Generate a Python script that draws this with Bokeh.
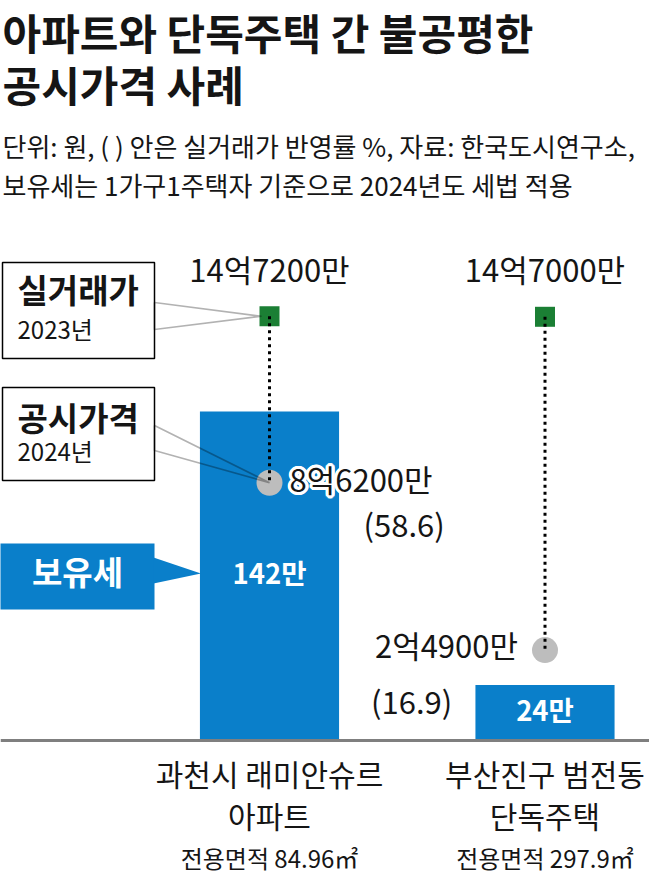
from bokeh.plotting import figure
from bokeh.models import Range1d, Label, BoxAnnotation, PolyAnnotation, Span
from bokeh.core.properties import value
from bokeh.embed import file_html
from bokeh.resources import INLINE

# ---------------- data ----------------
title_lines = ["아파트와 단독주택 간 불공평한", "공시가격 사례"]
subtitle_lines = ["단위: 원, ( ) 안은 실거래가 반영률 %, 자료: 한국도시연구소,",
                  "보유세는 1가구1주택자 기준으로 2024년도 세법 적용"]
category_line1 = ["과천시 래미안슈르", "부산진구 범전동"]
category_line2 = ["아파트", "단독주택"]
area_labels = ["전용면적 84.96㎡", "전용면적 297.9㎡"]
x_pos = [0, 1]
real_price = [14.72, 14.70]          # 억원, 실거래가 (2023년)
real_price_labels = ["14억7200만", "14억7000만"]
official_price = [8.62, 2.49]        # 억원, 공시가격 (2024년)
official_labels = ["8억6200만", "2억4900만"]
ratio = [58.6, 16.9]                 # 실거래가 반영률 %
tax = [142, 24]                      # 보유세, 만원
tax_labels = ["142만", "24만"]
legend_real = ["실거래가", "2023년"]
legend_official = ["공시가격", "2024년"]
legend_tax = "보유세"

# ---------------- layout / style ----------------
FONT = "Noto Sans CJK KR"
BLUE = "#0a7fca"
GREEN = "#1b7f34"
GRAY = "#bdbdbd"
INK = "#151515"
W, H = 649, 878
X_PX, X0 = 275.5, 269.0          # px per category, screen x of first category
TAX_PX, BASE = 2.317, 138.0      # px per 만원, screen y of baseline
PRICE_PX, PRICE0 = 27.3, 160.4   # px per 억원, screen y of zero price
BAR_W = 0.505
VAL_SIZE = 31

def sx(x):
    return X0 + x * X_PX

def sy_price(v):
    return PRICE0 + v * PRICE_PX

p = figure(width=W, height=H, output_backend="svg", toolbar_location=None,
           x_range=Range1d(-X0 / X_PX, (W - X0) / X_PX),
           y_range=Range1d(-BASE / TAX_PX, (H - BASE) / TAX_PX),
           x_axis_location=None, y_axis_location=None,
           min_border=0, outline_line_color=None,
           background_fill_color="white", border_fill_color="white")
p.extra_y_ranges = {"price": Range1d(-PRICE0 / PRICE_PX, (H - PRICE0) / PRICE_PX)}
p.grid.visible = False

# bars (보유세)
p.vbar(x=x_pos, top=tax, bottom=0, width=BAR_W, fill_color=BLUE, line_color=None)

# markers
p.scatter(x=x_pos, y=real_price, marker="square", size=20, fill_color=GREEN,
          line_color=None, y_range_name="price")
p.scatter(x=x_pos, y=official_price, marker="circle", size=26, fill_color=GRAY,
          line_color=None, y_range_name="price")
p.segment(x0=x_pos, y0=real_price, x1=x_pos, y1=official_price, line_color="black",
          line_width=3, line_dash="3 4", y_range_name="price")

# baseline
p.add_layout(Span(location=0, dimension="width", line_color="#7f7f7f", line_width=3))

txt = dict(text_font=value(FONT), text_color=INK, text_baseline="middle")
vsize = f"{VAL_SIZE}px"

# price labels
p.text(x=x_pos, y=real_price, text=real_price_labels, y_range_name="price",
       text_align="center", y_offset=-48, text_font_size=vsize, **txt)

# white halo behind the 공시가격 label that overlaps the bar
halo = [(-3, 0), (3, 0), (0, -3), (0, 3), (-2, -2), (2, -2), (-2, 2), (2, 2),
        (-3, -1), (3, -1), (-3, 1), (3, 1), (-1, -3), (1, -3), (-1, 3), (1, 3)]
for dx, dy in halo:
    p.text(x=[x_pos[0]], y=[official_price[0]], text=[official_labels[0]], y_range_name="price",
           text_align="left", x_offset=20 + dx, y_offset=-4 + dy, text_font_size=vsize,
           text_font=value(FONT), text_color="white", text_baseline="middle")
p.text(x=[x_pos[0]], y=[official_price[0]], text=[official_labels[0]], y_range_name="price",
       text_align="left", x_offset=20, y_offset=-4, text_font_size=vsize, **txt)
p.text(x=[x_pos[0]], y=[official_price[0]], text=[f"({ratio[0]})"], y_range_name="price",
       text_align="left", x_offset=94, y_offset=41, text_font_size=vsize, **txt)
p.text(x=[x_pos[1]], y=[official_price[1]], text=[official_labels[1]], y_range_name="price",
       text_align="right", x_offset=-27, y_offset=-6, text_font_size=vsize, **txt)
p.text(x=[x_pos[1]], y=[official_price[1]], text=[f"({ratio[1]})"], y_range_name="price",
       text_align="left", x_offset=-174, y_offset=50, text_font_size=vsize, **txt)

# bar labels
p.text(x=x_pos, y=[t / 2 for t in tax], text=tax_labels, text_align="center",
       text_baseline="middle", y_offset=-4, text_font=value(FONT), text_font_size="27.5px",
       text_font_style="bold", text_color="white")

# category labels
p.text(x=x_pos, y=[0, 0], text=category_line1, text_align="center", y_offset=32,
       text_font_size="30px", **txt)
p.text(x=x_pos, y=[0, 0], text=category_line2, text_align="center", y_offset=74,
       text_font_size="30px", **txt)
p.text(x=x_pos, y=[0, 0], text=area_labels, text_align="center", y_offset=117,
       text_font_size="24px", **txt)

# callout boxes
def box(l, r, t, b, fill, line):
    p.add_layout(BoxAnnotation(left=l, right=r, top=t, bottom=b,
                               left_units="screen", right_units="screen",
                               top_units="screen", bottom_units="screen",
                               fill_color=fill, fill_alpha=1.0,
                               line_color=line, line_width=1.5, line_alpha=1.0))

box(2, 154, 616, 520, "white", "black")
box(2, 154, 491, 398, "white", "black")
box(-5, 154, 335, 269, BLUE, None)

sq_tip = (sx(x_pos[0]) - 8, sy_price(real_price[0]))
ci_tip = (sx(x_pos[0]), sy_price(official_price[0]))
p.add_layout(PolyAnnotation(xs=[154, sq_tip[0], 154], ys=[576, sq_tip[1], 549],
                            xs_units="screen", ys_units="screen",
                            fill_alpha=0, line_color="black", line_width=1.7))
p.add_layout(PolyAnnotation(xs=[154, ci_tip[0], 154], ys=[453, ci_tip[1], 428],
                            xs_units="screen", ys_units="screen",
                            fill_alpha=0, line_color="black", line_width=1.7))
bar_left = sx(x_pos[0]) - BAR_W * X_PX / 2
p.add_layout(PolyAnnotation(xs=[153, bar_left + 1, 153], ys=[321, 305, 295],
                            xs_units="screen", ys_units="screen",
                            fill_color=BLUE, fill_alpha=1.0, line_color=None))

def label(x, y, text, size, bold=False, color=INK, align="left", baseline="middle"):
    p.add_layout(Label(x=x, y=y, x_units="screen", y_units="screen", text=text,
                       text_font=FONT, text_font_size=size, text_color=color,
                       text_font_style="bold" if bold else "normal",
                       text_baseline=baseline, text_align=align))

label(17, 590, legend_real[0], "33px", bold=True)
label(17, 550, legend_real[1], "24px")
label(17, 462, legend_official[0], "33px", bold=True)
label(17, 428, legend_official[1], "24px")
label(77, 308, legend_tax, "33px", bold=True, color="white", align="center")

# titles
label(2, 878, title_lines[0], "42px", bold=True, baseline="top")
label(2, 826, title_lines[1], "42px", bold=True, baseline="top")
label(2, 733, subtitle_lines[0], "26px")
label(2, 694, subtitle_lines[1], "26px")

open("out.html", "w").write(file_html(p, INLINE))
